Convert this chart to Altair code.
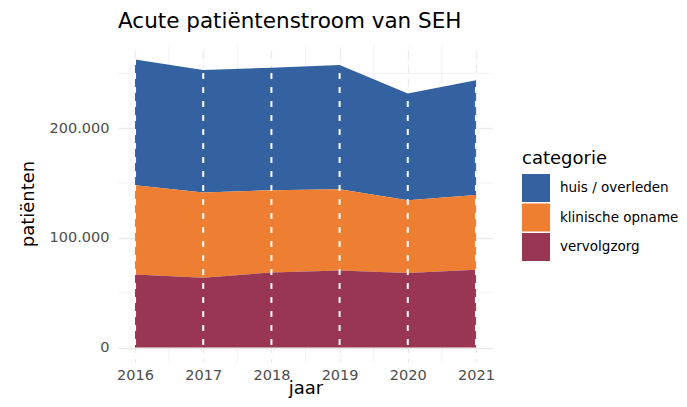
import altair as alt
import pandas as pd

jaren = [2016, 2017, 2018, 2019, 2020, 2021]
categorieen = ["huis / overleden", "klinische opname", "vervolgzorg"]
huis_overleden = [114800, 111700, 111700, 113200, 97500, 104700]
klinische_opname = [81200, 77700, 74900, 74000, 66300, 68100]
vervolgzorg = [66700, 63600, 68500, 70300, 67900, 71000]
kleuren = ["#34619F", "#ED7E32", "#993654"]
y_major = [0, 100000, 200000]
y_minor = [50000, 150000, 250000]
x_minor = [2016.5, 2017.5, 2018.5, 2019.5, 2020.5]

rows = []
for i, j in enumerate(jaren):
    rows.append({"jaar": j, "categorie": "huis / overleden", "patienten": huis_overleden[i], "ord": 2})
    rows.append({"jaar": j, "categorie": "klinische opname", "patienten": klinische_opname[i], "ord": 1})
    rows.append({"jaar": j, "categorie": "vervolgzorg", "patienten": vervolgzorg[i], "ord": 0})
df = pd.DataFrame(rows)

totals = [a + b + c for a, b, c in zip(huis_overleden, klinische_opname, vervolgzorg)]
ymax = max(totals)
ydom = [-0.05 * ymax, 1.05 * ymax]
xdom = [2016 - 0.25, 2021 + 0.25]

font = "DejaVu Sans"
xscale = alt.Scale(domain=xdom, nice=False, zero=False)
yscale = alt.Scale(domain=ydom, nice=False, zero=False)

grid_color = "#EBEBEB"

x_axis = alt.Axis(
    values=jaren,
    format="d",
    ticks=False,
    domain=False,
    grid=True,
    gridColor=grid_color,
    gridWidth=1.4,
    labelPadding=6,
    labelFontSize=14.5,
    labelColor="#4D4D4D",
    labelFont=font,
    titleFont=font,
    titleFontSize=18,
    titleFontWeight="normal",
    titleColor="#000000",
    titlePadding=-2,
)
y_axis = alt.Axis(
    values=y_major,
    labelExpr="replace(format(datum.value, ','), ',', '.')",
    ticks=False,
    domain=False,
    grid=True,
    gridColor=grid_color,
    gridWidth=1.4,
    labelPadding=9,
    labelFontSize=14.5,
    labelColor="#4D4D4D",
    labelFont=font,
    titleFont=font,
    titleFontSize=18,
    titleFontWeight="normal",
    titleColor="#000000",
    titlePadding=12,
)

minor_y = alt.Chart(pd.DataFrame({"v": y_minor})).mark_rule(
    color=grid_color, strokeWidth=0.7
).encode(y=alt.Y("v:Q", scale=yscale, axis=y_axis, title="patiënten"))

minor_x = alt.Chart(pd.DataFrame({"v": x_minor})).mark_rule(
    color=grid_color, strokeWidth=0.7
).encode(x=alt.X("v:Q", scale=xscale, axis=x_axis, title="jaar"))

area = alt.Chart(df).mark_area(opacity=1, strokeWidth=0).encode(
    x=alt.X("jaar:Q", scale=xscale, title="jaar", axis=x_axis),
    y=alt.Y("patienten:Q", stack="zero", scale=yscale, title="patiënten", axis=y_axis),
    color=alt.Color(
        "categorie:N",
        scale=alt.Scale(domain=categorieen, range=kleuren),
        legend=alt.Legend(
            title="categorie",
            orient="none",
            legendX=404,
            legendY=105,
            symbolType="square",
            symbolSize=784,
            symbolStrokeWidth=0,
            symbolOpacity=1,
            rowPadding=1.5,
            labelOffset=10,
            labelFont=font,
            labelFontSize=13.5,
            labelColor="#000000",
            titleFont=font,
            titleFontSize=18,
            titleFontWeight="normal",
            titleColor="#000000",
            titlePadding=6,
            padding=0,
            labelLimit=200,
        ),
    ),
    order=alt.Order("ord:Q"),
)

dashes = alt.Chart(pd.DataFrame({"v": jaren})).mark_rule(
    color="white", strokeWidth=2, strokeDash=[6, 8]
).encode(x=alt.X("v:Q", scale=xscale, axis=x_axis, title="jaar"))

chart = alt.layer(minor_y, minor_x, area, dashes).properties(
    width=375,
    height=317,
    title=alt.TitleParams(
        "Acute patiëntenstroom van SEH",
        anchor="start",
        frame="group",
        font=font,
        fontSize=21.5,
        fontWeight="normal",
        color="#000000",
        offset=12,
    ),
    background="white",
    autosize=alt.AutoSizeParams(type="none"),
    padding={"left": 110, "top": 37, "right": 186, "bottom": 37},
).configure_view(strokeWidth=0, stroke=None)

chart.save("out.html", embed_options={"renderer": "svg", "actions": False})
